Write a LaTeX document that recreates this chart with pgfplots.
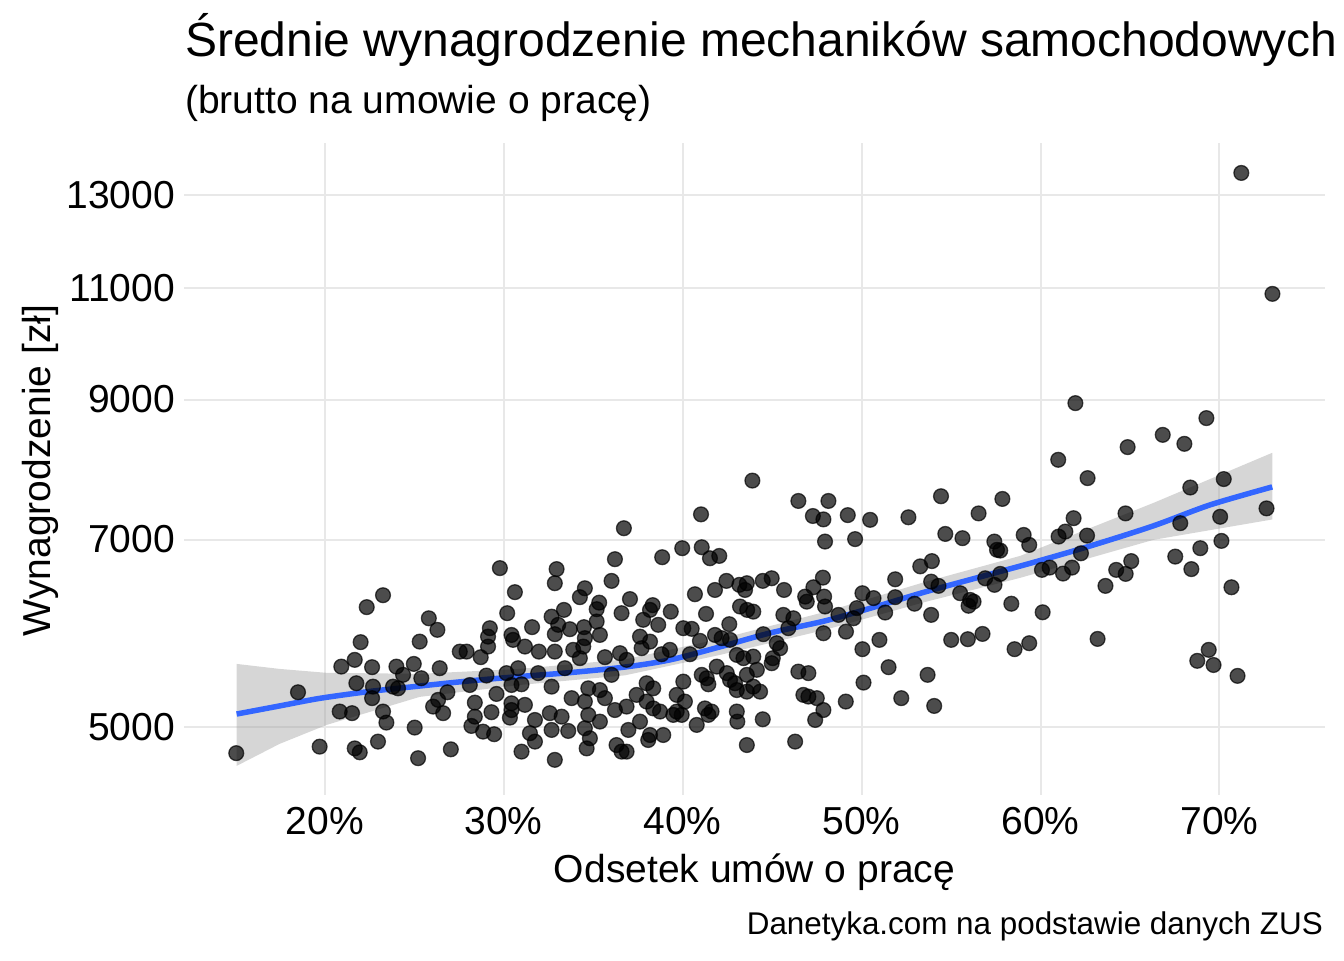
\documentclass[border=0pt]{standalone}
\usepackage{fontspec}
\setmainfont{Liberation Sans}
\usepackage{pgfplots}
\usepackage{pgfplotstable}
\pgfplotsset{compat=1.18}
\definecolor{fitblue}{HTML}{3366FF}
\definecolor{gridc}{HTML}{E8E8E8}
\pgfplotstableread{
x y
15.06 4770
18.51 5321
19.72 4826
20.84 5140
21.53 5125
20.93 5572
21.68 5640
22.01 5822
22.35 6200
23.26 6334
21.77 5408
22.65 5566
22.70 5375
22.65 5265
23.26 5140
23.45 5039
22.98 4870
21.68 4811
21.96 4777
24.01 5572
24.38 5490
23.82 5375
24.10 5359
24.98 5599
25.31 5828
25.03 4994
25.22 4727
29.79 6650
30.63 6369
30.20 6133
32.96 6638
32.86 6472
36.22 6757
36.03 6499
34.54 6414
34.26 6312
35.34 6250
35.20 6177
36.59 6133
33.37 6169
32.68 6095
33.05 6006
33.70 5959
32.86 5906
31.59 5981
34.49 5981
35.20 6042
35.38 5898
34.54 5864
25.82 6077
26.30 5952
29.23 5970
29.13 5880
29.13 5776
30.44 5898
30.53 5846
31.19 5776
27.55 5724
27.93 5724
28.72 5667
31.97 5724
32.86 5724
33.89 5742
34.45 5776
35.66 5667
36.50 5708
26.43 5556
25.40 5457
29.04 5483
30.16 5507
30.81 5556
31.00 5398
30.44 5391
28.11 5391
26.86 5321
29.60 5305
31.93 5507
32.68 5375
33.42 5556
34.73 5359
35.38 5342
36.03 5490
26.34 5249
26.06 5186
26.62 5125
28.39 5223
28.39 5093
29.32 5134
28.20 5009
28.85 4958
29.47 4935
30.44 5217
30.44 5154
30.35 5084
31.19 5202
31.75 5063
31.47 4944
31.75 4870
32.58 5125
33.24 5093
33.80 5265
32.68 4973
33.61 4964
34.54 5233
34.73 5109
35.38 5048
35.66 5265
36.22 5154
34.54 4988
34.82 4899
34.64 4811
36.31 4840
36.59 4783
27.05 4803
31.00 4783
32.86 4713
34.26 5657
43.90 7782
41.03 7324
36.72 7144
46.47 7503
48.15 7503
47.28 7302
47.87 7258
47.96 6975
39.98 6892
41.07 6904
41.53 6769
42.05 6797
38.86 6781
42.45 6499
41.81 6394
40.69 6345
43.17 6453
43.59 6472
43.49 6394
44.48 6499
44.98 6530
45.67 6394
46.85 6318
46.94 6261
47.31 6425
47.84 6537
47.91 6318
47.96 6207
37.06 6290
38.33 6222
38.18 6169
39.34 6150
41.31 6125
43.21 6207
43.61 6169
43.95 6150
45.63 6114
37.80 6060
38.64 6006
40.04 5970
40.51 5963
42.61 6013
37.62 5880
38.18 5828
37.71 5759
39.29 5742
38.83 5697
36.87 5640
40.41 5697
40.97 5836
41.81 5898
42.18 5864
42.65 5846
44.51 5906
45.26 5811
45.45 5759
45.91 5970
46.19 6077
47.87 5916
43.03 5690
43.40 5657
43.95 5673
45.04 5657
44.98 5606
41.91 5572
42.47 5507
41.07 5490
41.35 5457
41.44 5398
42.65 5440
42.93 5408
43.03 5342
43.59 5490
44.15 5540
43.59 5327
43.95 5375
44.33 5327
46.47 5522
47.03 5507
46.75 5296
47.03 5280
47.50 5265
47.87 5154
47.41 5063
46.29 4870
43.59 4840
44.48 5069
43.03 5140
43.06 5048
41.25 5169
41.62 5140
41.44 5109
40.79 5018
40.04 5424
40.13 5233
39.67 5296
39.67 5140
39.48 5109
39.95 5109
37.99 5408
38.36 5359
37.43 5296
37.99 5233
38.36 5169
38.74 5140
36.87 5186
37.62 5048
36.97 4973
38.18 4928
38.92 4928
38.08 4884
36.87 4783
54.44 7566
57.87 7530
56.54 7337
52.62 7285
50.48 7252
49.23 7314
49.64 7005
54.68 7071
55.64 7017
57.42 6975
57.57 6872
57.75 6863
59.06 7058
59.37 6933
53.93 6734
53.28 6671
51.88 6518
53.89 6490
54.30 6441
56.91 6530
57.43 6453
57.75 6581
55.51 6357
56.07 6281
56.26 6261
55.98 6215
58.37 6238
50.05 6357
50.67 6301
51.88 6312
52.96 6238
51.32 6140
49.74 6189
49.55 6077
48.71 6114
49.13 5933
53.89 6114
55.01 5846
55.94 5853
56.76 5909
58.55 5749
59.37 5811
51.00 5846
50.05 5749
51.51 5566
50.11 5414
53.69 5490
52.22 5265
54.06 5192
49.12 5233
61.95 8942
69.27 8705
66.83 8447
68.04 8312
64.87 8263
60.99 8077
62.63 7816
68.37 7685
70.24 7803
72.63 7403
70.04 7292
67.81 7209
64.75 7337
61.85 7274
61.39 7101
61.01 7037
62.60 7050
62.26 6829
61.76 6656
61.26 6585
60.51 6656
60.08 6629
65.07 6734
64.23 6629
64.76 6581
63.63 6441
67.53 6789
68.93 6892
70.11 6983
68.43 6638
70.67 6425
60.12 6143
63.19 5856
69.40 5742
68.76 5630
69.67 5588
71.01 5480
71.22 13518
72.96 10880
}\pts
\pgfplotstableread{
x y
15.08 5117
17.48 5192
19.72 5263
22.52 5329
25.31 5381
28.11 5431
30.63 5470
33.70 5512
36.78 5568
39.30 5640
42.09 5773
44.89 5919
47.96 6049
50.76 6203
53.56 6372
56.63 6546
59.71 6725
62.79 6921
66.31 7174
69.48 7450
72.95 7694
}\fit
\pgfplotstableread{
x y
15.08 5599
17.48 5549
20.11 5510
25.31 5500
30.90 5549
36.78 5645
42.09 5856
47.96 6147
53.56 6487
58.86 6797
66.31 7476
72.95 8179
72.95 7257
66.31 6996
58.86 6534
53.56 6258
47.96 5952
42.09 5690
36.78 5485
30.90 5391
25.31 5277
20.11 5018
17.48 4850
15.08 4662
}\band
\begin{document}
\begin{tikzpicture}[x=1bp,y=1bp]
\useasboundingbox (0,0) rectangle (1344,960);
\begin{axis}[
  at={(184bp,164.7bp)}, anchor=south west,
  scale only axis, width=1141bp, height=651.9bp,
  xmin=12.14, xmax=75.9,
  ymode=log, ymin=4423, ymax=14256,
  xtick={20,30,40,50,60,70},
  xticklabels={20\%,30\%,40\%,50\%,60\%,70\%},
  ytick={5000,7000,9000,11000,13000},
  yticklabels={5000,7000,9000,11000,13000},
  minor ytick={}, minor xtick={},
  grid=major,
  major grid style={draw=gridc, line width=2bp},
  axis line style={draw=none},
  major tick length=0pt, minor tick length=0pt,
  ticklabel style={font=\fontsize{39bp}{45bp}\selectfont, text=black},
  xticklabel style={anchor=base, inner sep=0pt, yshift=-39.7bp},
  yticklabel style={anchor=east, inner sep=0pt, xshift=-9bp},
]
\addplot[only marks, mark=*, mark size=7.4bp,
  mark options={draw=black, fill=black, opacity=0.7, line width=1.3bp}]
  table[x=x,y=y]{\pts};
\addplot[draw=none, fill=black!40, fill opacity=0.4] table[x=x,y=y]{\band};
\addplot[fitblue, line width=5.5bp, no marks, smooth] table[x=x,y=y]{\fit};
\end{axis}
\node[anchor=base west, inner sep=0pt] at (185,903)
  {\fontsize{48bp}{56bp}\selectfont Średnie wynagrodzenie mechaników samochodowych};
\node[anchor=base west, inner sep=0pt] at (185,846)
  {\fontsize{39bp}{46bp}\selectfont (brutto na umowie o pracę)};
\node[anchor=base, inner sep=0pt] at (754.5,78)
  {\fontsize{39bp}{46bp}\selectfont Odsetek umów o pracę};
\node[anchor=base, inner sep=0pt, rotate=90] at (50,489.4)
  {\fontsize{39bp}{46bp}\selectfont Wynagrodzenie [zł]};
\node[anchor=base east, inner sep=0pt] at (1323,26)
  {\fontsize{31.4bp}{37bp}\selectfont Danetyka.com na podstawie danych ZUS};
\end{tikzpicture}
\end{document}
